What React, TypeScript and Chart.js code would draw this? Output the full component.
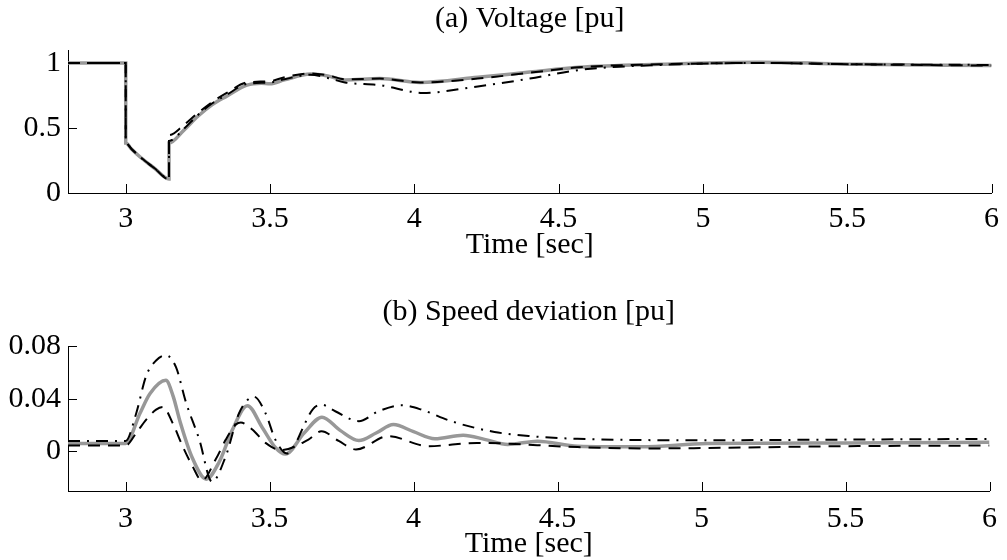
import React, { useEffect, useRef } from "react";
import { Chart, registerables } from "chart.js";

Chart.register(...registerables);

// ---------- data ----------
// (a) Voltage [pu]
const tVoltGray = [2.8, 3.0, 3.0, 3.02, 3.05, 3.1, 3.15, 3.15, 3.2, 3.25, 3.3, 3.35, 3.42, 3.47, 3.5, 3.55, 3.64, 3.7, 3.76, 3.88, 4.02, 4.22, 4.4, 4.57, 4.85, 5.2, 5.54, 6.0];
const voltGray = [1.0, 1.0, 0.385, 0.339, 0.277, 0.19, 0.108, 0.385, 0.48, 0.59, 0.68, 0.745, 0.83, 0.845, 0.84, 0.87, 0.915, 0.9, 0.87, 0.88, 0.85, 0.89, 0.93, 0.967, 0.99, 1.005, 0.99, 0.98];

const tVoltDash = [2.8, 3.0, 3.0, 3.02, 3.05, 3.1, 3.15, 3.15, 3.2, 3.25, 3.3, 3.35, 3.42, 3.5, 3.55, 3.64, 3.7, 3.76, 3.88, 4.02, 4.22, 4.4, 4.57, 4.85, 5.2, 5.54, 6.0];
const voltDash = [1.0, 1.0, 0.385, 0.339, 0.277, 0.19, 0.105, 0.445, 0.52, 0.615, 0.7, 0.77, 0.85, 0.86, 0.89, 0.92, 0.905, 0.875, 0.88, 0.85, 0.88, 0.925, 0.967, 0.99, 1.0, 0.99, 0.98];

const tVoltDashDot = [2.8, 3.0, 3.0, 3.02, 3.05, 3.1, 3.15, 3.15, 3.2, 3.25, 3.3, 3.35, 3.42, 3.5, 3.55, 3.64, 3.7, 3.76, 3.88, 4.03, 4.22, 4.4, 4.57, 4.85, 5.2, 5.54, 6.0];
const voltDashDot = [1.0, 1.0, 0.385, 0.339, 0.277, 0.19, 0.11, 0.4, 0.49, 0.6, 0.69, 0.755, 0.84, 0.85, 0.875, 0.91, 0.885, 0.85, 0.83, 0.77, 0.82, 0.88, 0.946, 0.985, 1.0, 0.99, 0.985];

// (b) Speed deviation [pu]
const tSpeedGray = [2.8, 3.0, 3.05, 3.085, 3.14, 3.165, 3.19, 3.23, 3.28, 3.325, 3.37, 3.423, 3.475, 3.52, 3.555, 3.62, 3.682, 3.745, 3.81, 3.87, 3.93, 4.0, 4.074, 4.172, 4.25, 4.327, 4.43, 4.57, 4.79, 5.02, 5.5, 6.0];
const speedGray = [0.006, 0.006, 0.029, 0.044, 0.054, 0.042, 0.022, -0.004, -0.021, -0.008, 0.016, 0.0347, 0.018, 0.003, -0.002, 0.014, 0.026, 0.016, 0.0083, 0.014, 0.0204, 0.015, 0.0096, 0.0123, 0.009, 0.0053, 0.0078, 0.004, 0.0035, 0.006, 0.0065, 0.007];

const tSpeedDash = [2.8, 3.0, 3.037, 3.071, 3.106, 3.13, 3.163, 3.198, 3.232, 3.265, 3.313, 3.348, 3.383, 3.4, 3.44, 3.486, 3.54, 3.635, 3.68, 3.74, 3.8, 3.912, 4.05, 4.22, 4.57, 4.79, 5.5, 6.0];
const speedDash = [0.0045, 0.0045, 0.014, 0.024, 0.0317, 0.0337, 0.0217, 0.004, -0.011, -0.022, -0.006, 0.009, 0.0204, 0.022, 0.0166, 0.0065, 0.001, 0.009, 0.0153, 0.008, 0.0015, 0.0116, 0.004, 0.0065, 0.0033, 0.0023, 0.004, 0.0045];

const tSpeedDashDot = [2.8, 3.0, 3.037, 3.071, 3.106, 3.14, 3.175, 3.21, 3.256, 3.3, 3.348, 3.394, 3.446, 3.486, 3.52, 3.56, 3.59, 3.62, 3.65, 3.68, 3.728, 3.81, 3.878, 3.957, 4.028, 4.13, 4.281, 4.407, 4.569, 5.0, 5.5, 6.0];
const speedDashDot = [0.008, 0.008, 0.029, 0.057, 0.069, 0.073, 0.064, 0.037, 0.009, -0.023, -0.0035, 0.029, 0.0415, 0.029, 0.009, -0.0015, 0.006, 0.02, 0.032, 0.0355, 0.0305, 0.023, 0.0305, 0.035, 0.0317, 0.023, 0.0148, 0.0116, 0.0096, 0.0085, 0.009, 0.0095];

const xTicks = [3, 3.5, 4, 4.5, 5, 5.5, 6];
const yTicksVolt = [0, 0.5, 1];
const yTicksSpeed = [0, 0.04, 0.08];

const titleVolt = "(a) Voltage [pu]";
const titleSpeed = "(b) Speed deviation [pu]";
const xTitle = "Time [sec]";

// ---------- styling ----------
const FONT = '"Liberation Serif", "Times New Roman", serif';
const FS = 30;
const GRAY = "rgb(152,152,152)";

function pts(t: number[], v: number[]) {
  return t.map((x, i) => ({ x, y: v[i] }));
}

const innerTicks = {
  id: "innerTicks",
  beforeDatasetsDraw(chart: any) {
    const { ctx, chartArea, scales } = chart;
    const xs = scales.x;
    const ys = scales.y;
    ctx.save();
    ctx.strokeStyle = "#000";
    ctx.lineWidth = 1;
    ctx.beginPath();
    xs.ticks.forEach((t: any) => {
      const p = Math.round(xs.getPixelForValue(t.value)) + 0.5;
      ctx.moveTo(p, chartArea.bottom);
      ctx.lineTo(p, chartArea.bottom - 9);
    });
    ys.ticks.forEach((t: any) => {
      const p = Math.round(ys.getPixelForValue(t.value)) + 0.5;
      ctx.moveTo(chartArea.left, p);
      ctx.lineTo(chartArea.left + 9, p);
    });
    ctx.stroke();
    ctx.restore();
  },
};

interface PanelSpec {
  title: string;
  titlePad: { top: number; bottom: number };
  yMin: number;
  yMax: number;
  yTicks: number[];
  xScaleHeight: number;
  xTickPad: number;
  xTitlePadBottom: number;
  gray: { x: number; y: number }[];
  dash: { x: number; y: number }[];
  dashDot: { x: number; y: number }[];
}

function makeConfig(p: PanelSpec): any {
  const font = { family: FONT, size: FS, weight: "normal" as const };
  return {
    type: "line",
    data: {
      datasets: [
        {
          label: "dashed",
          data: p.dash,
          borderColor: "#000",
          borderWidth: 2,
          borderDash: [12, 8],
          pointRadius: 0,
          fill: false,
          cubicInterpolationMode: "monotone",
        },
        {
          label: "dash-dot",
          data: p.dashDot,
          borderColor: "#000",
          borderWidth: 2,
          borderDash: [12, 7, 2, 7],
          pointRadius: 0,
          fill: false,
          cubicInterpolationMode: "monotone",
        },
        {
          label: "gray",
          data: p.gray,
          borderColor: GRAY,
          borderWidth: 3.5,
          pointRadius: 0,
          fill: false,
          cubicInterpolationMode: "monotone",
        },
      ],
    },
    options: {
      responsive: false,
      animation: false,
      devicePixelRatio: 1,
      layout: { padding: { left: 0, right: 13, top: 0, bottom: 0 } },
      plugins: {
        legend: { display: false },
        tooltip: { enabled: false },
        title: {
          display: true,
          text: p.title,
          fullSize: false,
          color: "#000",
          font,
          padding: p.titlePad,
        },
      },
      scales: {
        x: {
          type: "linear",
          min: 2.8,
          max: 6,
          afterBuildTicks: (s: any) => {
            s.ticks = xTicks.map((v) => ({ value: v }));
          },
          afterFit: (s: any) => {
            s.height = p.xScaleHeight;
          },
          ticks: {
            color: "#000",
            font,
            padding: p.xTickPad,
            maxRotation: 0,
            autoSkip: false,
            callback: (v: any) => String(v),
          },
          grid: { display: false, drawTicks: false },
          border: { display: true, color: "#000", width: 1 },
          title: {
            display: true,
            text: xTitle,
            color: "#000",
            font,
            padding: { top: 0, bottom: p.xTitlePadBottom },
          },
        },
        y: {
          type: "linear",
          min: p.yMin,
          max: p.yMax,
          afterBuildTicks: (s: any) => {
            s.ticks = p.yTicks.map((v) => ({ value: v }));
          },
          afterFit: (s: any) => {
            s.width = 68;
          },
          ticks: {
            color: "#000",
            font,
            padding: 7,
            autoSkip: false,
            callback: (v: any) => String(v),
          },
          grid: { display: false, drawTicks: false },
          border: { display: true, color: "#000", width: 1 },
        },
      },
    },
    plugins: [innerTicks],
  };
}

export default function App() {
  const topRef = useRef<HTMLCanvasElement>(null);
  const botRef = useRef<HTMLCanvasElement>(null);

  useEffect(() => {
    const c1 = new Chart(
      topRef.current as HTMLCanvasElement,
      makeConfig({
        title: titleVolt,
        titlePad: { top: 1, bottom: 13 },
        yMin: 0,
        yMax: 1.1,
        yTicks: yTicksVolt,
        xScaleHeight: 87,
        xTickPad: 8,
        xTitlePadBottom: 17,
        gray: pts(tVoltGray, voltGray),
        dash: pts(tVoltDash, voltDash),
        dashDot: pts(tVoltDashDot, voltDashDot),
      })
    );
    const c2 = new Chart(
      botRef.current as HTMLCanvasElement,
      makeConfig({
        title: titleSpeed,
        titlePad: { top: 14, bottom: 16 },
        yMin: -0.03,
        yMax: 0.08,
        yTicks: yTicksSpeed,
        xScaleHeight: 71,
        xTickPad: 10,
        xTitlePadBottom: 0,
        gray: pts(tSpeedGray, speedGray),
        dash: pts(tSpeedDash, speedDash),
        dashDot: pts(tSpeedDashDot, speedDashDot),
      })
    );
    return () => {
      c1.destroy();
      c2.destroy();
    };
  }, []);

  return (
    <div
      style={{
        position: "fixed",
        left: 0,
        top: 0,
        width: 1007,
        height: 560,
        background: "#fff",
      }}
    >
      <canvas
        ref={topRef}
        width={1007}
        height={280}
        style={{ position: "absolute", left: 0, top: 0, width: 1007, height: 280 }}
      />
      <canvas
        ref={botRef}
        width={1007}
        height={282}
        style={{ position: "absolute", left: 0, top: 280, width: 1007, height: 282 }}
      />
    </div>
  );
}
